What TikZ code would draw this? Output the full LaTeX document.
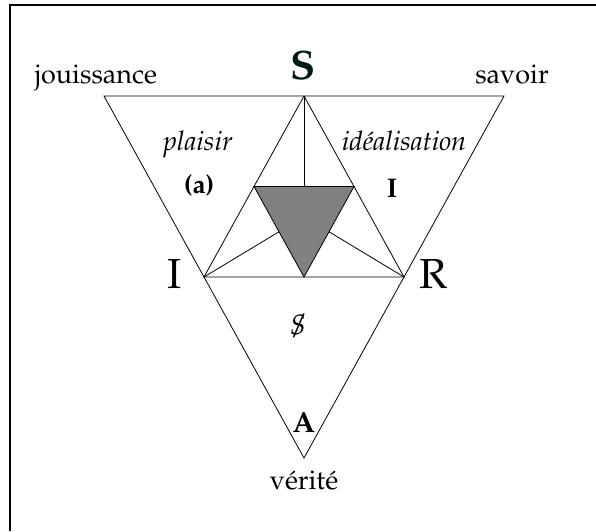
\documentclass[tikz,border=0pt]{standalone}
\usepackage[T1]{fontenc}
\usepackage{mathpazo}
\usetikzlibrary{positioning}
\definecolor{sgreen}{RGB}{0,28,14}
\definecolor{midgray}{RGB}{128,128,128}
\newcommand{\barS}{\ooalign{\itshape S\cr\hidewidth\itshape /\hidewidth\cr}}
\tikzset{
    every node/.style={inner sep=0pt, anchor=base},
    word/.style={font=\fontsize{27}{30}\selectfont},
    itword/.style={font=\fontsize{27}{30}\selectfont\itshape},
    bigletter/.style={font=\fontsize{42}{46}\selectfont},
    bfletter/.style={font=\fontsize{29}{32}\selectfont\bfseries},
    tri/.style={line width=0.8pt, line join=miter},
    shaded/.style={tri, fill=midgray}
}

\begin{document}
\begin{tikzpicture}[x=1pt, y=-1pt]
    \useasboundingbox (0,0) rectangle (596,531);
    \draw[line width=1.5pt] (10,531) -- (10,5) -- (596,5);

    % outer triangle and its midpoints
    \coordinate (J) at (104,96);
    \coordinate (Sv) at (504,96);
    \coordinate (V) at (304,458);
    \coordinate (S) at (304,96);
    \coordinate (I) at (204,277);
    \coordinate (R) at (404,277);
    % inner (grey) triangle
    \coordinate (g1) at (254,186.5);
    \coordinate (g2) at (354,186.5);
    \coordinate (g3) at (304,277);
    \coordinate (m1) at (304,186.5);
    \coordinate (m2) at (279,231.75);
    \coordinate (m3) at (329,231.75);

    \draw[tri] (J) -- (Sv) -- (V) -- cycle;
    \draw[tri] (S) -- (I) -- (R) -- cycle;
    \filldraw[shaded] (g1) -- (g2) -- (g3) -- cycle;
    \draw[tri] (S) -- (m1);
    \draw[tri] (I) -- (m2);
    \draw[tri] (R) -- (m3);

    % labels
    \node[word] (jouis) at (96,83) {jouissance};
    \node[word] (savoir) at (512,83) {savoir};
    \node[font=\fontsize{41}{44}\selectfont\bfseries, text=sgreen] (Slab) at (303,79) {S};
    \node[itword] (plaisir) at (198,150) {plaisir};
    \node[itword] (ideal) at (404,150) {id\'ealisation};
    \node[font=\fontsize{26}{28}\selectfont\bfseries] (a) at (199,193) {(a)};
    \node[font=\fontsize{27}{30}\selectfont\bfseries] (Ibf) at (392,197) {I};
    \node[bigletter] (Ilab) at (175,288) {I};
    \node[bigletter] (Rlab) at (434,288) {R};
    \node[font=\fontsize{28}{30}\selectfont] (barS) at (298,334) {\barS};
    \node[bfletter] (Alab) at (304,432) {A};
    \node[word] (verite) at (304,489) {v\'erit\'e};
\end{tikzpicture}
\end{document}
